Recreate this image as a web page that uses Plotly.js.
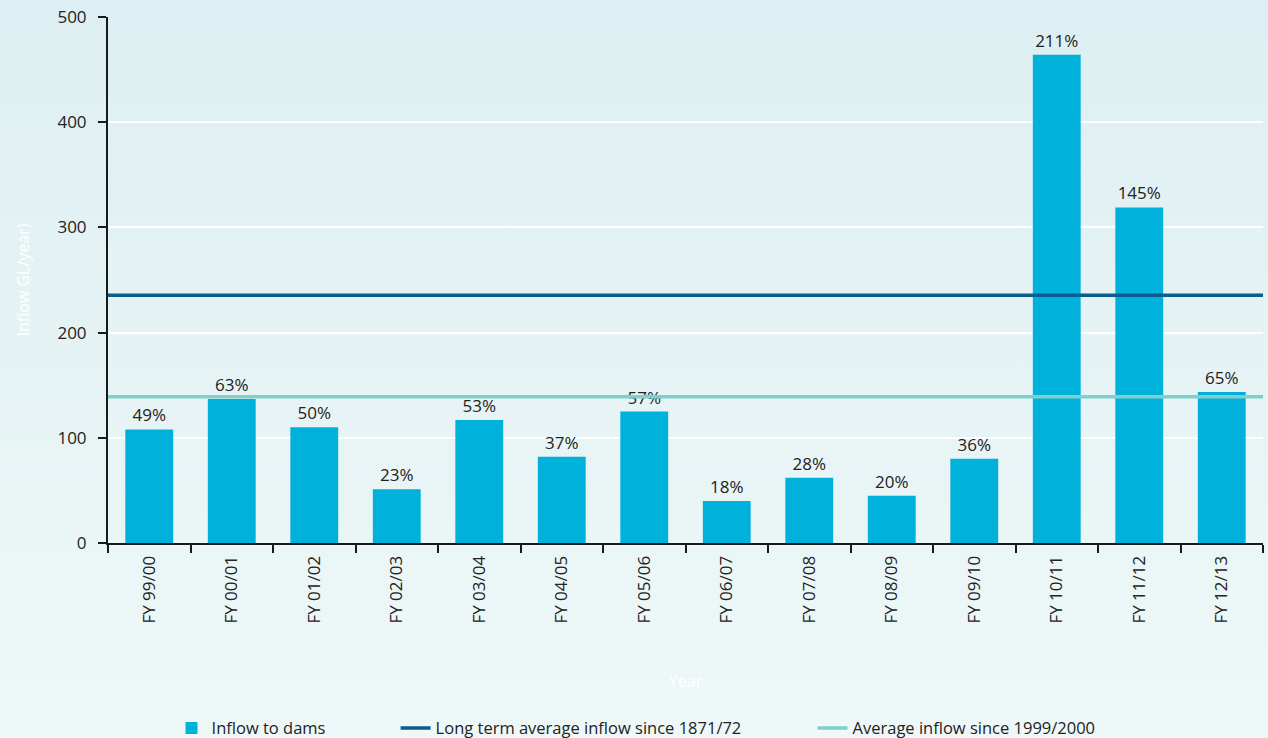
<!DOCTYPE html>
<html>
<head>
<meta charset="utf-8">
<script src="https://cdn.plot.ly/plotly-3.0.1.min.js"></script>
<style>
html,body{margin:0;padding:0;}
body{width:1268px;height:738px;overflow:hidden;background:linear-gradient(to bottom,#ddeff2 0%,#e6f3f4 50%,#eff8f8 100%);}
#chart{width:1268px;height:738px;}
</style>
</head>
<body>
<div id="chart"></div>
<script>
const categories = ["FY 99/00","FY 00/01","FY 01/02","FY 02/03","FY 03/04","FY 04/05","FY 05/06","FY 06/07","FY 07/08","FY 08/09","FY 09/10","FY 10/11","FY 11/12","FY 12/13"];
const inflow = [108, 137, 110, 51, 117, 82, 125, 40, 62, 45, 80, 464, 319, 143.5];
const percentLabels = ["49%","63%","50%","23%","53%","37%","57%","18%","28%","20%","36%","211%","145%","65%"];
const longTermAverage = 235.5;
const recentAverage = 139;
const yTicks = [0, 100, 200, 300, 400, 500];

const FONT = "Open Sans, sans-serif";

const traces = [
  {
    type: "bar",
    name: "Inflow to dams",
    x: categories,
    y: inflow,
    text: percentLabels,
    textposition: "outside",
    textfont: {family: FONT, size: 17, color: "#222222"},
    cliponaxis: false,
    marker: {color: "#00b1dc"},
    legend: "legend",
    hoverinfo: "x+y"
  },
  {
    type: "scatter",
    mode: "lines",
    name: "Long term average inflow since 1871/72",
    x: [0, 1],
    y: [longTermAverage, longTermAverage],
    xaxis: "x2",
    line: {color: "#0b5d8f", width: 3.5},
    legend: "legend2"
  },
  {
    type: "scatter",
    mode: "lines",
    name: "Average inflow since 1999/2000",
    x: [0, 1],
    y: [recentAverage, recentAverage],
    xaxis: "x2",
    line: {color: "#7fd0cc", width: 3.5},
    legend: "legend3"
  }
];

const legendBase = {
  orientation: "h",
  yanchor: "middle",
  y: -0.352,
  xanchor: "left",
  bgcolor: "rgba(0,0,0,0)",
  font: {family: FONT, size: 16.5, color: "#222222"}
};

const layout = {
  width: 1268,
  height: 738,
  paper_bgcolor: "rgba(0,0,0,0)",
  plot_bgcolor: "rgba(0,0,0,0)",
  margin: {l: 108, r: 5, t: 17, b: 195, autoexpand: false},
  bargap: 0.42,
  showlegend: true,
  font: {family: FONT, color: "#222222"},
  xaxis: {
    type: "category",
    showgrid: false,
    showline: true,
    linecolor: "#1a1a1a",
    linewidth: 2,
    ticks: "outside",
    tickson: "boundaries",
    ticklen: 8,
    tickwidth: 2,
    tickcolor: "#1a1a1a",
    tickangle: -90,
    ticklabelstandoff: 4,
    tickfont: {family: FONT, size: 17, color: "#222222"},
    title: {text: "Year", font: {family: FONT, size: 16, color: "#ffffff"}, standoff: 53},
    automargin: false,
    fixedrange: true
  },
  xaxis2: {
    overlaying: "x",
    range: [0, 1],
    visible: false,
    fixedrange: true
  },
  yaxis: {
    range: [0, 500],
    tickvals: yTicks,
    showgrid: true,
    gridcolor: "#ffffff",
    gridwidth: 2,
    zeroline: false,
    showline: true,
    linecolor: "#1a1a1a",
    linewidth: 2,
    ticks: "outside",
    ticklen: 8,
    tickwidth: 2,
    tickcolor: "#1a1a1a",
    ticklabelstandoff: 8,
    tickfont: {family: FONT, size: 17, color: "#222222"},
    title: {text: "Inflow GL/year)", font: {family: FONT, size: 16, color: "#ffffff"}, standoff: 24},
    automargin: false,
    fixedrange: true
  },
  legend: Object.assign({}, legendBase, {x: 0.055}),
  legend2: Object.assign({}, legendBase, {x: 0.249}),
  legend3: Object.assign({}, legendBase, {x: 0.610})
};

Plotly.newPlot("chart", traces, layout, {displayModeBar: false, staticPlot: true});
</script>
</body>
</html>
